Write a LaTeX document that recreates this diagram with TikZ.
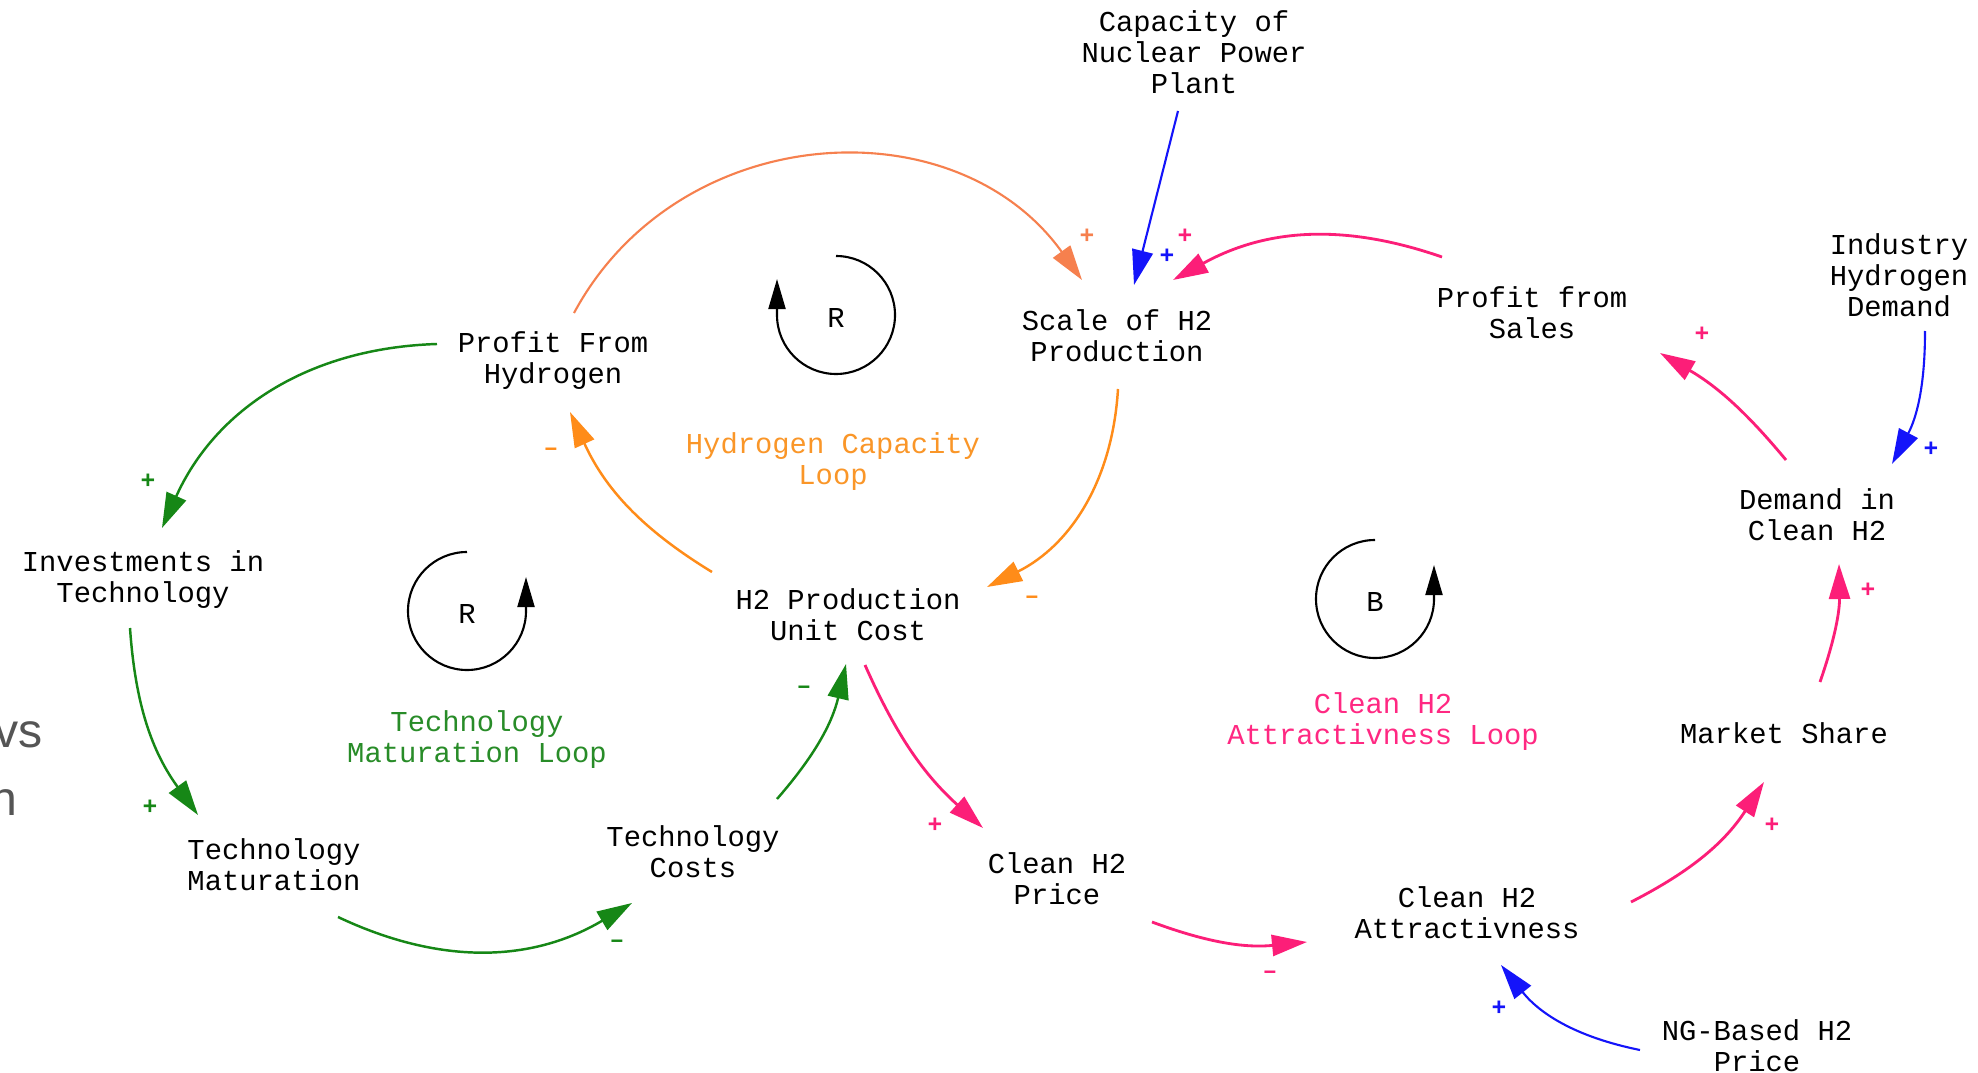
\documentclass[tikz,border=0pt]{standalone}
\usepackage{fontspec}
\setmonofont{Liberation Mono}
\newfontfamily\slidefont{Liberation Sans}
\usetikzlibrary{arrows.meta,calc}
\definecolor{cgreen}{RGB}{22,135,22}
\definecolor{cpink}{RGB}{252,30,120}
\definecolor{cblue}{RGB}{20,20,250}
\definecolor{corange}{RGB}{255,140,25}
\definecolor{csalmon}{RGB}{246,128,78}
\definecolor{lorange}{RGB}{250,150,40}
\definecolor{lgreen}{RGB}{40,140,40}
\definecolor{lpink}{RGB}{255,40,130}
\definecolor{slidegray}{RGB}{85,85,85}
\begin{document}
\begin{tikzpicture}[x=0.01cm,y=0.01cm,
  var/.style={font=\ttfamily\fontsize{8.2}{8.8}\selectfont, align=center, inner sep=0pt},
  looplabel/.style={var},
  link/.style={line width=0.7pt, -{Triangle[length=0.35cm,width=0.21cm]}},
  pol/.style={font=\ttfamily\fontsize{7}{7}\selectfont\bfseries, inner sep=0pt},
  loopsym/.style={line width=0.6pt, black, -{Triangle[length=0.3cm,width=0.17cm]}},
]
\useasboundingbox (0,0) rectangle (1978,-1073);
\clip (0,0) rectangle (1978,-1073);
\fill[white] (0,0) rectangle (1978,-1073);

% slide text cut off at the left border
\node[font=\slidefont\fontsize{13.7}{14}\selectfont, text=slidegray, anchor=base east, inner sep=0pt] (vs) at (43,-747) {vs};
\node[font=\slidefont\fontsize{13.7}{14}\selectfont, text=slidegray, anchor=base east, inner sep=0pt] (nn) at (18,-815) {n};

% variables
\node[var] (nuc)    at (1194,-52)   {Capacity of\\Nuclear Power\\Plant};
\node[var] (scale)  at (1117,-336)  {Scale of H2\\Production};
\node[var] (sales)  at (1532,-313)  {Profit from\\Sales};
\node[var] (ind)    at (1899,-275)  {Industry\\Hydrogen\\Demand};
\node[var] (pfh)    at (553,-361)   {Profit From\\Hydrogen};
\node[var] (invest) at (143,-580)   {Investments in\\Technology};
\node[var] (unit)   at (848,-615)   {H2 Production\\Unit Cost};
\node[var] (demand) at (1817,-515)  {Demand in\\Clean H2};
\node[var] (mat)    at (274,-865)   {Technology\\Maturation};
\node[var] (costs)  at (693,-852)   {Technology\\Costs};
\node[var] (price)  at (1057,-879)  {Clean H2\\Price};
\node[var] (share)  at (1784,-733)  {Market Share};
\node[var] (attr)   at (1467,-913)  {Clean H2\\Attractivness};
\node[var] (ng)     at (1757,-1046) {NG-Based H2\\Price};

% loop names
\node[looplabel, text=lorange] (hcl) at (833,-462) {Hydrogen Capacity\\Loop};
\node[looplabel, text=lgreen]  (tml) at (477,-740) {Technology\\Maturation Loop};
\node[looplabel, text=lpink]   (cal) at (1383,-722) {Clean H2\\Attractivness Loop};

% loop symbols
\node[var] (r1) at (836,-318) {R};
\draw[loopsym] (836,-256) arc[start angle=90, end angle=-180, radius=59] -- ++(0,36);
\node[var] (r2) at (467,-614) {R};
\draw[loopsym] (467,-552) arc[start angle=90, end angle=360, radius=59] -- ++(0,34);
\node[var] (b1) at (1375,-602) {B};
\draw[loopsym] (1375,-540) arc[start angle=90, end angle=360, radius=59] -- ++(0,34);

% causal links
\draw[link, csalmon, line width=0.6pt] ($(pfh)+(21,48)$) to[bend left=58, looseness=1.1] ($(scale)+(-35,56)$);
\draw[link, cblue, line width=0.6pt] ($(nuc)+(-16,-59)$) -- ($(scale)+(17,51)$);
\draw[link, cpink, line width=0.8pt] ($(sales)+(-90,56)$) to[bend right=24] ($(scale)+(56,56)$);
\draw[link, cpink, line width=0.8pt] ($(demand)+(-31,55)$) to[bend right=10] ($(sales)+(128,-40)$);
\draw[link, cblue, line width=0.6pt] ($(ind)+(26,-56)$) to[bend left=14] ($(demand)+(75,51)$);
\draw[link, corange] ($(scale)+(1,-53)$) to[bend left=30] ($(unit)+(139,28)$);
\draw[link, corange] ($(unit)+(-136,43)$) to[bend left=17] ($(pfh)+(17,-51)$);
\draw[link, cgreen] ($(pfh)+(-116,17)$) to[bend right=32] ($(invest)+(19,52)$);
\draw[link, cgreen] ($(invest)+(-13,-48)$) to[bend right=16] ($(mat)+(-76,50)$);
\draw[link, cgreen] ($(mat)+(64,-52)$) to[bend right=28] ($(costs)+(-61,-51)$);
\draw[link, cgreen] ($(costs)+(84,53)$) to[bend right=14] ($(unit)+(-2,-49)$);
\draw[link, cpink, line width=0.8pt] ($(unit)+(17,-50)$) to[bend right=12] ($(price)+(-74,51)$);
\draw[link, cpink, line width=0.8pt] ($(price)+(95,-43)$) to[bend right=13] ($(attr)+(-160,-29)$);
\draw[link, cpink, line width=0.8pt] ($(attr)+(164,11)$) to[bend right=15] ($(share)+(-20,-49)$);
\draw[link, cpink, line width=0.8pt] ($(share)+(36,51)$) to[bend right=10] ($(demand)+(22,-49)$);
\draw[link, cblue, line width=0.6pt] ($(ng)+(-117,-4)$) to[bend left=20] ($(attr)+(34,-52)$);

% link polarities
\node[pol, text=csalmon] (p1)  at (1087,-236) {+};
\node[pol, text=cpink]   (p2)  at (1185,-236) {+};
\node[pol, text=cblue]   (p3)  at (1167,-256) {+};
\node[pol, text=cpink]   (p4)  at (1702,-334) {+};
\node[pol, text=cblue]   (p5)  at (1931,-449) {+};
\node[pol, text=corange] (p6)  at (1032,-600) {–};
\node[pol, text=corange] (p7)  at (551,-452)  {–};
\node[pol, text=cgreen]  (p8)  at (148,-481)  {+};
\node[pol, text=cgreen]  (p9)  at (150,-807)  {+};
\node[pol, text=cgreen]  (p10) at (617,-944)  {–};
\node[pol, text=cgreen]  (p11) at (804,-690)  {–};
\node[pol, text=cpink]   (p12) at (935,-825)  {+};
\node[pol, text=cpink]   (p13) at (1270,-975) {–};
\node[pol, text=cpink]   (p14) at (1772,-825) {+};
\node[pol, text=cpink]   (p15) at (1868,-590) {+};
\node[pol, text=cblue]   (p16) at (1499,-1008) {+};
\end{tikzpicture}
\end{document}
